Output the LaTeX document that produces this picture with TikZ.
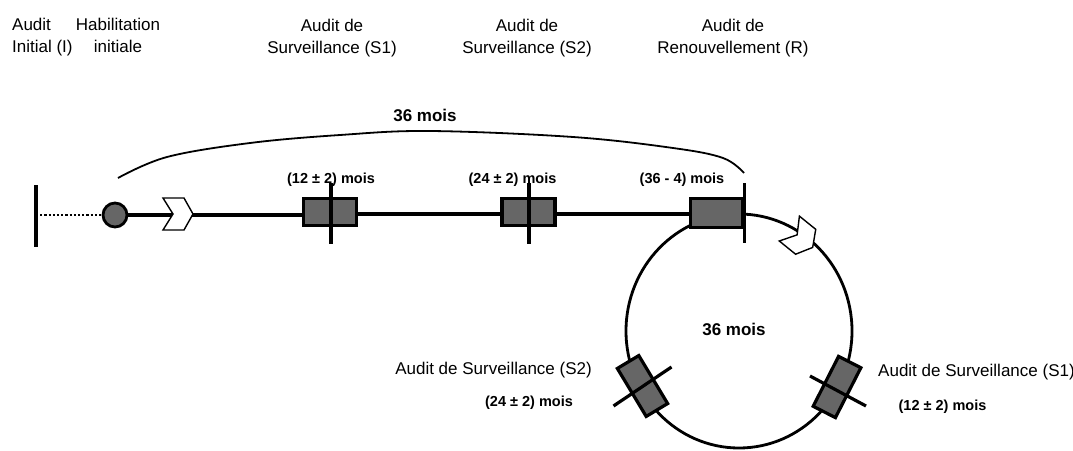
\documentclass[tikz,border=0pt]{standalone}
\usepackage{fontspec}
\setmainfont{Liberation Sans}
\usetikzlibrary{shapes.geometric}
\definecolor{boxgray}{RGB}{102,102,102}
\begin{document}
\begin{tikzpicture}[x=1pt,y=-1pt,
  lbl/.style={font=\fontsize{17}{22}\selectfont, align=center, inner sep=0pt},
  blbl/.style={font=\fontsize{14.5}{17}\selectfont\bfseries, inner sep=0pt, anchor=base},
  big/.style={font=\fontsize{17}{20}\selectfont\bfseries, inner sep=0pt, anchor=base},
  auditbox/.style={draw=black, line width=3.2pt, fill=boxgray, minimum width=53pt, minimum height=27pt, inner sep=0pt},
  mainline/.style={line width=3.2pt},
  chev/.pic={\draw[line width=1.4pt, fill=white, line join=miter]
     (-15,-16) -- (-5,0) -- (-15,16) -- (6,16) -- (15,0) -- (6,-16) -- cycle;}
]
\useasboundingbox (0,0) rectangle (1073,450);

% top labels (base = last line)
\node[lbl, align=left, anchor=base west] (tI) at (12,52) {Audit\\Initial (I)};
\node[lbl, anchor=base] (tH) at (118,52) {Habilitation\\initiale};
\node[lbl, anchor=base] (tS1) at (332,53) {Audit de\\Surveillance (S1)};
\node[lbl, anchor=base] (tS2) at (527,53) {Audit de\\Surveillance (S2)};
\node[lbl, anchor=base] (tR) at (733,53) {Audit de\\Renouvellement (R)};

% big loop
\node[draw, ellipse, line width=2.8pt, minimum width=226pt, minimum height=234pt, inner sep=0pt] (loop) at (739,331) {};
\node[big] (lt) at (734,335) {36 mois};

% start
\coordinate (start) at (36,215);
\draw[mainline] (start) ++(0,-30) -- ++(0,62);
\node[circle, draw, line width=2.8pt, fill=boxgray, minimum size=24pt, inner sep=0pt] (c0) at (115,215) {};
\draw[line width=2.2pt, dotted] (start) -- (c0.west);

% boxes on the main line
\node[auditbox] (s1) at (330,212) {};
\node[auditbox] (s2) at (528.5,212) {};
\node[auditbox, minimum width=52pt, minimum height=29pt] (r) at (716.5,213) {};

\draw[mainline] (c0.east) -- (s1.west |- c0.east);
\draw[mainline] (s1.east |- 0,214) -- (s2.west |- 0,214);
\draw[mainline] (s2.east |- 0,214) -- (r.west |- 0,214);

\draw[mainline] (s1.center) ++(1,-29) -- ++(0,61);
\draw[mainline] (s2.center) ++(0.5,-29) -- ++(0,61);
\draw[mainline] (r.east) ++(0,-30) -- ++(0,60);

% chevrons
\pic at (178,214) {chev};
\pic[rotate=-39] at (801,238) {chev};

% boxes on the loop
\node[auditbox, minimum width=56pt, minimum height=25pt, rotate=-59] (cs2) at (642.5,386) {};
\node[auditbox, minimum width=56pt, minimum height=25pt, rotate=63] (cs1) at (837,387) {};
\draw[mainline] (cs2.center) ++(-29,20) -- ++(58,-39);
\draw[mainline] (cs1.center) ++(-27,-11) -- ++(56,30);

% arc 36 mois
\draw[line width=1.8pt] plot[smooth, tension=0.6] coordinates {(118,178) (167,157) (250,143) (340,135) (430,131) (573,137) (673,148) (723,158) (744,173)};
\node[big] (at) at (425,121) {36 mois};

% month labels
\node[blbl] (m1) at (331,183) {(12 ± 2) mois};
\node[blbl] (m2) at (512.5,183) {(24 ± 2) mois};
\node[blbl] (m3) at (682,183) {(36 - 4) mois};

% bottom labels
\node[lbl, anchor=base east] (bS2) at (592,374) {Audit de Surveillance (S2)};
\node[blbl] (bm2) at (529,406) {(24 ± 2) mois};
\node[lbl, anchor=base west] (bS1) at (878,376) {Audit de Surveillance (S1)};
\node[blbl] (bm1) at (942.5,410) {(12 ± 2) mois};
\end{tikzpicture}
\end{document}
